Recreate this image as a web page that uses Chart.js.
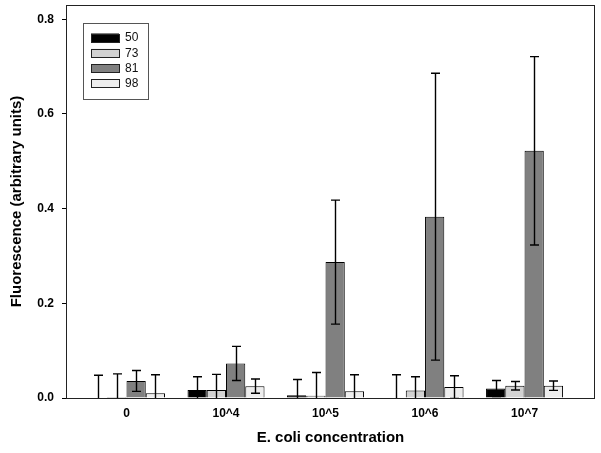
<!DOCTYPE html>
<html><head><meta charset="utf-8">
<script src="https://cdn.jsdelivr.net/npm/chart.js@4/dist/chart.umd.min.js"></script>
<style>html,body{margin:0;padding:0;background:#fff}</style>
</head><body>
<canvas id="c" width="601" height="453"></canvas>
<script>
const categories = ['0', '10^4', '10^5', '10^6', '10^7'];
const seriesNames = ['50', '73', '81', '98'];
const s50 = [0.000, 0.017, 0.006, 0.001, 0.020];
const s73 = [0.002, 0.017, 0.005, 0.016, 0.026];
const s81 = [0.036, 0.073, 0.287, 0.383, 0.522];
const s98 = [0.010, 0.025, 0.014, 0.023, 0.026];
const e50 = [0.048, 0.028, 0.033, 0.048, 0.017];
const e73 = [0.049, 0.033, 0.049, 0.029, 0.009];
const e81 = [0.022, 0.036, 0.131, 0.303, 0.199];
const e98 = [0.039, 0.015, 0.035, 0.024, 0.010];
const yTicks = [0, 0.2, 0.4, 0.6, 0.8];

const FONT = "'Liberation Sans', Arial, sans-serif";
const colors = ['#000000', '#d2d2d2', '#808080', '#ededed'];
const seriesVals = [s50, s73, s81, s98];
const seriesErrs = [e50, e73, e81, e98];

const datasets = seriesNames.map((n, k) => ({
  label: n,
  data: seriesVals[k].map((v, i) => ({x: i, y: v})),
  errors: seriesErrs[k],
  backgroundColor: colors[k],
  borderColor: '#000',
  borderWidth: 1,
  borderSkipped: 'bottom',
  categoryPercentage: 0.774,
  barPercentage: 1.0
}));

const errorBars = {
  id: 'errorBars',
  afterDatasetsDraw(chart) {
    const ctx = chart.ctx, ys = chart.scales.y, a = chart.chartArea;
    ctx.save();
    ctx.beginPath();
    ctx.rect(a.left, a.top, a.right - a.left, a.bottom - a.top);
    ctx.clip();
    ctx.strokeStyle = '#000';
    ctx.lineWidth = 1.4;
    chart.data.datasets.forEach((ds, k) => {
      const meta = chart.getDatasetMeta(k);
      meta.data.forEach((bar, i) => {
        const v = ds.data[i].y, e = ds.errors[i];
        const x = Math.round(bar.x) + 0.5;
        const yt = ys.getPixelForValue(v + e);
        const yb = ys.getPixelForValue(v - e);
        ctx.beginPath();
        ctx.moveTo(x, yt); ctx.lineTo(x, yb);
        ctx.moveTo(x - 4.5, yt); ctx.lineTo(x + 4.5, yt);
        ctx.moveTo(x - 4.5, yb); ctx.lineTo(x + 4.5, yb);
        ctx.stroke();
      });
    });
    ctx.restore();
  }
};

const frameAndLegend = {
  id: 'frameAndLegend',
  afterDraw(chart) {
    const ctx = chart.ctx, a = chart.chartArea;
    ctx.save();
    ctx.strokeStyle = '#222';
    ctx.lineWidth = 1;
    ctx.strokeRect(Math.round(a.left) - 0.5, Math.round(a.top) + 0.5,
                   Math.round(a.right - a.left) + 1, Math.round(a.bottom - a.top));
    // legend
    const lx = a.left + 16, ly = a.top + 18, lw = 65, lh = 76;
    ctx.strokeStyle = '#555';
    ctx.strokeRect(Math.round(lx) + 0.5, Math.round(ly) + 0.5, lw, lh);
    ctx.font = '12px ' + FONT;
    ctx.textBaseline = 'middle';
    ctx.textAlign = 'left';
    chart.data.datasets.forEach((ds, k) => {
      const ry = ly + 10.5 + k * 15.3;
      ctx.fillStyle = ds.backgroundColor;
      ctx.fillRect(lx + 8, ry, 28, 8.5);
      ctx.strokeStyle = '#222';
      ctx.strokeRect(Math.round(lx + 8) + 0.5, Math.round(ry) + 0.5, 28, 8);
      ctx.fillStyle = '#111';
      ctx.fillText(ds.label, lx + 42, ry + 4.5);
    });
    ctx.restore();
  }
};

new Chart(document.getElementById('c'), {
  type: 'bar',
  data: { datasets },
  options: {
    responsive: false,
    animation: false,
    devicePixelRatio: 1,
    layout: { padding: { top: 5, right: 7, left: 0, bottom: 0 } },
    plugins: { legend: { display: false }, tooltip: { enabled: false } },
    scales: {
      x: {
        type: 'linear',
        offset: false,
        min: -0.598,
        max: 4.698,
        grid: { display: false, drawTicks: false, offset: false },
        border: { display: false },
        afterBuildTicks: (s) => { s.ticks = categories.map((c, i) => ({ value: i })); },
        afterFit: (s) => { s.height = 55; s.paddingLeft = 0; s.paddingRight = 0; },
        ticks: {
          autoSkip: false,
          maxRotation: 0,
          padding: 8,
          color: '#000',
          font: { family: FONT, size: 12, weight: 'bold' },
          callback: (v) => categories[Math.round(v)]
        },
        title: {
          display: true,
          text: 'E. coli concentration',
          color: '#000',
          font: { family: FONT, size: 15, weight: 'bold' },
          padding: { top: 0, bottom: 6 }
        }
      },
      y: {
        min: 0,
        max: 0.83,
        grid: { display: true, drawOnChartArea: false, drawTicks: true, tickLength: 5, color: '#000', lineWidth: 1 },
        border: { display: false },
        afterBuildTicks: (s) => { s.ticks = yTicks.map(v => ({ value: v })); },
        afterFit: (s) => { s.width = 67; s.paddingTop = 0; s.paddingBottom = 0; },
        ticks: {
          padding: 8,
          color: '#000',
          font: { family: FONT, size: 12, weight: 'bold' },
          callback: (v) => Number(v).toFixed(1)
        },
        title: {
          display: true,
          text: 'Fluorescence (arbitrary units)',
          color: '#000',
          font: { family: FONT, size: 15, weight: 'bold' },
          padding: { top: 8, bottom: 0 }
        }
      }
    }
  },
  plugins: [errorBars, frameAndLegend]
});
</script>
</body></html>
